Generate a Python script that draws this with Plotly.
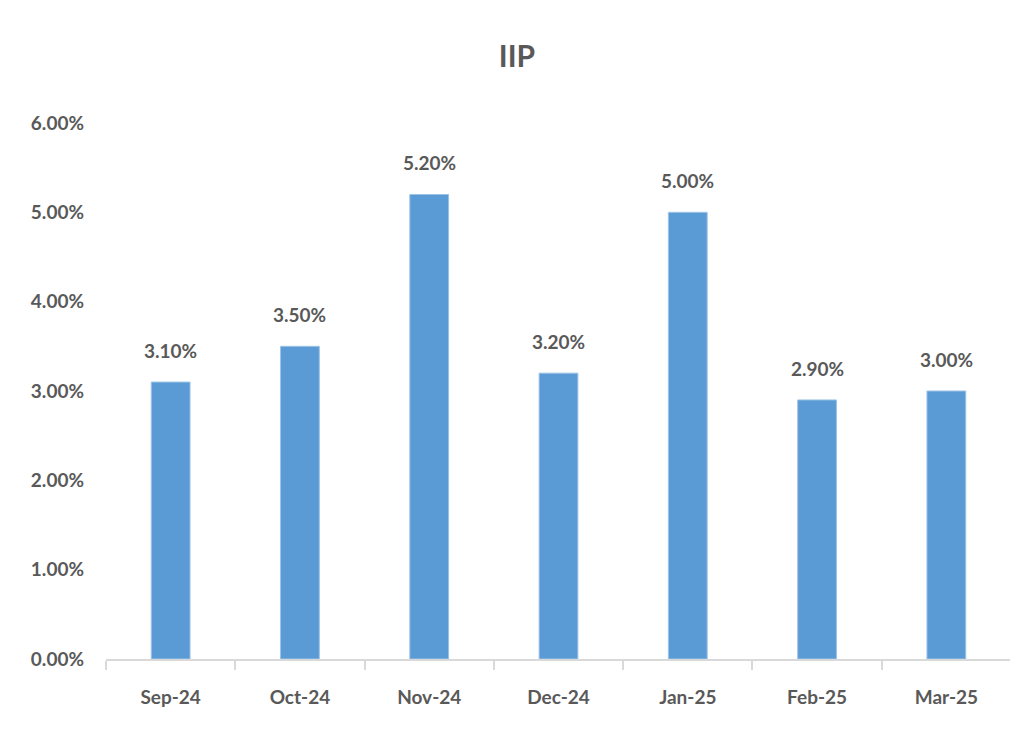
import plotly.graph_objects as go

categories = ["Sep-24", "Oct-24", "Nov-24", "Dec-24", "Jan-25", "Feb-25", "Mar-25"]
values = [3.10, 3.50, 5.20, 3.20, 5.00, 2.90, 3.00]
y_ticks = [0, 1, 2, 3, 4, 5, 6]

FONT = "Lato, 'Open Sans', sans-serif"
GREY = "#595959"

fig = go.Figure()
fig.add_trace(go.Bar(
    x=categories, y=values,
    marker=dict(color="#5B9BD5", line=dict(color="#9DC3E6", width=1)),
    width=0.3,
))

for c, v in zip(categories, values):
    fig.add_annotation(x=c, y=v, text=f"<b>{v:.2f}%</b>", showarrow=False,
                       yanchor="bottom", yshift=18,
                       font=dict(family=FONT, size=19, color=GREY))

fig.update_layout(
    width=1018, height=740,
    margin=dict(l=98, r=15, t=115, b=89),
    paper_bgcolor="white", plot_bgcolor="white",
    showlegend=False,
    title=dict(text="<b>IIP</b>", x=0.5, xanchor="center", y=0.935, yanchor="middle",
               font=dict(family=FONT, size=30, color=GREY)),
    font=dict(family=FONT, size=19, color=GREY),
)
fig.update_xaxes(
    type="category", showline=True, linecolor="#D9D9D9", linewidth=2,
    ticks="outside", tickson="boundaries", ticklen=9, tickcolor="#D9D9D9", tickwidth=2,
    showgrid=False, ticklabelstandoff=20,
    tickvals=categories, ticktext=[f"<b>{c}</b>" for c in categories],
    tickfont=dict(family=FONT, size=19, color=GREY),
)
fig.update_yaxes(
    range=[0, 6], tickvals=y_ticks, ticktext=[f"<b>{t:.2f}%</b>" for t in y_ticks],
    showgrid=False, showline=False, zeroline=False, ticks="",
    ticklabelstandoff=21,
    tickfont=dict(family=FONT, size=19, color=GREY),
)

fig.write_html("out.html")
